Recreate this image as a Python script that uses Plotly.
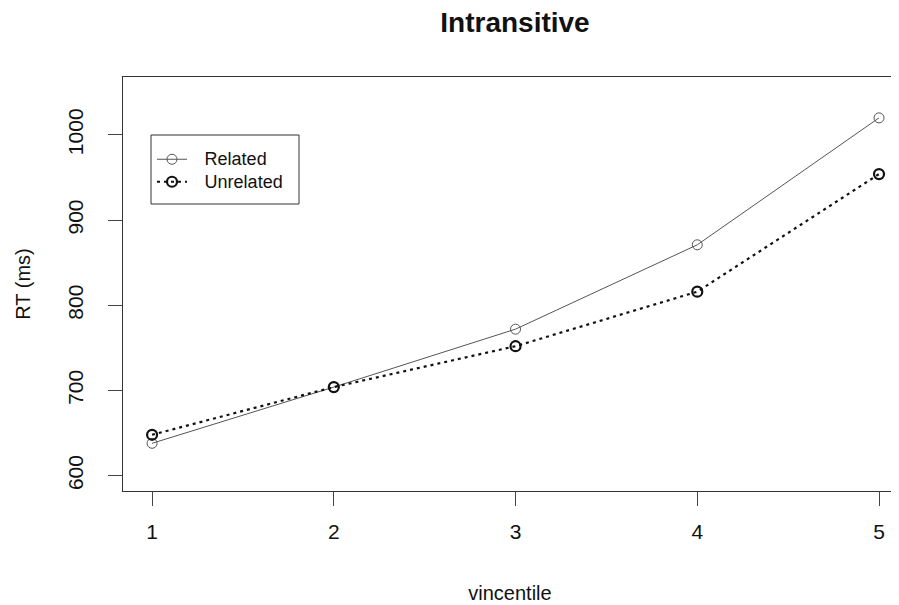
import plotly.graph_objects as go

vincentile = [1, 2, 3, 4, 5]
related = [638, 704, 772, 871, 1020]
unrelated = [648, 704, 752, 816, 954]
x_ticks = [1, 2, 3, 4, 5]
y_ticks = [600, 700, 800, 900, 1000]

FONT = "Liberation Sans, Arial, Helvetica, sans-serif"

# page body adds an 8px offset; figure sized to fill the 899x605 window
W, H = 891, 597
L, R, T, B = 115, 2, 69, 114
PW, PH = W - L - R, H - T - B


def px_x(p):
    return (p - 8 - L) / PW


def px_y(p):
    return (H - B - (p - 8)) / PH


def leg(name):
    return '<span style="font-size:18px">\u2002\u2009' + name + '</span>'


fig = go.Figure()
fig.add_trace(go.Scatter(
    x=vincentile, y=related, name=leg("Related"), mode="lines+markers",
    line=dict(color="#555555", width=1),
    marker=dict(symbol="circle-open", size=10, color="#555555", line=dict(width=1)),
))
fig.add_trace(go.Scatter(
    x=vincentile, y=unrelated, name=leg("Unrelated"), mode="lines+markers",
    line=dict(color="#111111", width=2.2, dash="3px,4px"),
    marker=dict(symbol="circle-open", size=10, color="#111111", line=dict(width=2.2)),
))

# legend frame
fig.add_shape(type="rect", xref="paper", yref="paper",
              x0=px_x(151), x1=px_x(299), y0=px_y(204), y1=px_y(135),
              line=dict(color="#333333", width=1), fillcolor="rgba(0,0,0,0)")

fig.update_layout(
    width=W, height=H,
    margin=dict(l=L, r=R, t=T, b=B),
    plot_bgcolor="white", paper_bgcolor="white",
    font=dict(family=FONT, color="#111111"),
    title=dict(text="<b>Intransitive</b>", x=507 / W, xanchor="center",
               y=1 - 14 / H, yanchor="middle", font=dict(size=28, family=FONT)),
    showlegend=True,
    legend=dict(x=px_x(152), y=px_y(143), xanchor="left", yanchor="top",
                borderwidth=0, bgcolor="rgba(0,0,0,0)",
                font=dict(size=15, family=FONT), tracegroupgap=0),
    xaxis=dict(range=[0.84, 5.099], tickvals=x_ticks, ticks="outside", ticklen=14,
               tickcolor="#444444", showline=True, linecolor="#333333", linewidth=1,
               mirror=True, showgrid=False, zeroline=False,
               tickfont=dict(size=21), ticklabelstandoff=8,
               title=dict(text="vincentile", font=dict(size=20), standoff=43)),
    yaxis=dict(range=[582, 1068], tickvals=y_ticks, ticks="outside", ticklen=14,
               tickcolor="#444444", showline=True, linecolor="#333333", linewidth=1,
               mirror=False, showgrid=False, zeroline=False, tickangle=-90,
               tickfont=dict(size=21), ticklabelstandoff=17,
               title=dict(text="RT (ms)", font=dict(size=20), standoff=27)),
)

fig.write_html("out.html")
